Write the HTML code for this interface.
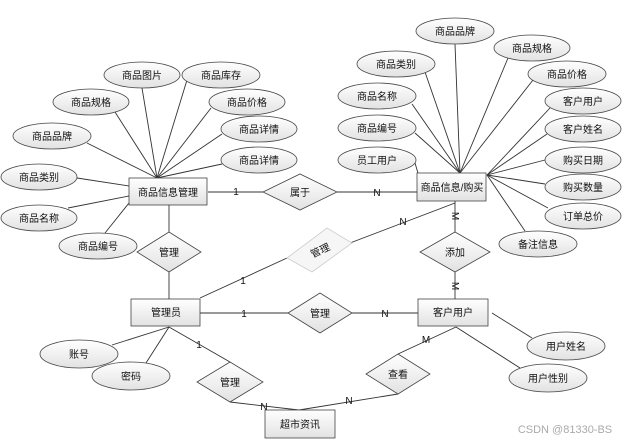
<!DOCTYPE html>
<html><head><meta charset="utf-8"><style>
html,body{margin:0;padding:0;background:#fff;width:624px;height:441px;overflow:hidden}
text{font-family:"Liberation Sans","Noto Sans CJK SC",sans-serif;font-size:10px;fill:#111}
</style></head><body>
<svg width="624" height="441" viewBox="0 0 624 441" xmlns="http://www.w3.org/2000/svg">
<defs>
<linearGradient id="g" x1="0" y1="0" x2="0" y2="1"><stop offset="0" stop-color="#fff"/><stop offset="1" stop-color="#e2e2e2"/></linearGradient>
</defs>
<g stroke="#333" stroke-width="0.9" fill="none">
<!-- left entity attrs -->
<line x1="157" y1="178" x2="142" y2="88"/>
<line x1="157" y1="178" x2="187" y2="80"/>
<line x1="157" y1="178" x2="115" y2="112"/>
<line x1="157" y1="178" x2="211" y2="108"/>
<line x1="157" y1="178" x2="87" y2="143"/>
<line x1="157" y1="178" x2="222" y2="134"/>
<line x1="157" y1="178" x2="222" y2="164"/>
<line x1="129" y1="186" x2="77" y2="178"/>
<line x1="129" y1="196" x2="68" y2="208"/>
<line x1="129" y1="203" x2="105" y2="233"/>
<line x1="208" y1="192" x2="263" y2="192"/>
<line x1="169" y1="205" x2="169" y2="232"/>
<line x1="169" y1="272" x2="169" y2="299"/>
<!-- right entity attrs -->
<line x1="460" y1="173" x2="455" y2="44"/>
<line x1="460" y1="173" x2="508" y2="58"/>
<line x1="460" y1="173" x2="425" y2="72"/>
<line x1="460" y1="173" x2="533" y2="80"/>
<line x1="460" y1="173" x2="412" y2="104"/>
<line x1="460" y1="173" x2="415" y2="133"/>
<line x1="420" y1="180" x2="415" y2="163"/>
<line x1="487" y1="175" x2="550" y2="108"/>
<line x1="487" y1="175" x2="547" y2="134"/>
<line x1="487" y1="175" x2="545" y2="160"/>
<line x1="487" y1="175" x2="545" y2="184"/>
<line x1="487" y1="175" x2="548" y2="208"/>
<line x1="487" y1="175" x2="525" y2="231"/>
<line x1="337" y1="192" x2="417" y2="192"/>
<line x1="455" y1="201" x2="455" y2="232"/>
<line x1="455" y1="272" x2="455" y2="299"/>
<line x1="350" y1="243" x2="455" y2="203"/>
<line x1="200" y1="298" x2="287" y2="258"/>
<!-- bottom -->
<line x1="200" y1="313" x2="288" y2="313"/>
<line x1="352" y1="313" x2="418" y2="313"/>
<line x1="169" y1="327" x2="112" y2="345"/>
<line x1="169" y1="327" x2="146" y2="363"/>
<line x1="169" y1="327" x2="230" y2="362"/>
<line x1="230" y1="402" x2="299" y2="410"/>
<line x1="398" y1="394" x2="299" y2="410"/>
<line x1="398" y1="354" x2="456" y2="327"/>
<line x1="456" y1="327" x2="520" y2="368"/>
<line x1="492" y1="313" x2="532" y2="338"/>
</g>
<g fill="url(#g)" stroke="#444" stroke-width="0.8">
<rect x="129" y="178" width="78" height="27"/>
<rect x="417" y="173" width="69" height="28"/>
<rect x="131" y="299" width="69" height="27"/>
<rect x="418" y="299" width="70" height="27"/>
<rect x="265" y="410" width="70" height="28"/>
<polygon points="263,192 300,174 337,192 300,210"/>
<polygon points="137,252 169,232 201,252 169,272"/>
<polygon points="420,252 455,232 490,252 455,272"/>
<polygon points="288,313 320,293 352,313 320,333"/>
<polygon points="197,382 230,362 263,382 230,402"/>
<polygon points="366,374 398,354 430,374 398,394"/>
</g>
<polygon points="287,258 327,228 352,243 312,272" fill="#f6f6f6" stroke="#ccc" stroke-width="0.8"/>
<g fill="url(#g)" stroke="#444" stroke-width="0.8">
<ellipse cx="142" cy="75" rx="38" ry="13"/>
<ellipse cx="221" cy="75" rx="39" ry="13"/>
<ellipse cx="91" cy="102" rx="38" ry="13"/>
<ellipse cx="247" cy="102" rx="38" ry="13"/>
<ellipse cx="52" cy="136" rx="39" ry="13"/>
<ellipse cx="259" cy="129" rx="38" ry="13"/>
<ellipse cx="259" cy="160" rx="38" ry="13"/>
<ellipse cx="39" cy="177" rx="38" ry="13"/>
<ellipse cx="39" cy="218" rx="38" ry="13"/>
<ellipse cx="98" cy="246" rx="39" ry="13"/>
<ellipse cx="455" cy="31" rx="39" ry="13"/>
<ellipse cx="532" cy="48" rx="38" ry="13"/>
<ellipse cx="396" cy="64" rx="39" ry="13"/>
<ellipse cx="567" cy="74" rx="39" ry="13"/>
<ellipse cx="377" cy="96" rx="39" ry="13"/>
<ellipse cx="583" cy="101" rx="38" ry="13"/>
<ellipse cx="377" cy="128" rx="39" ry="13"/>
<ellipse cx="583" cy="129" rx="38" ry="13"/>
<ellipse cx="377" cy="160" rx="39" ry="13"/>
<ellipse cx="583" cy="160" rx="38" ry="13"/>
<ellipse cx="583" cy="187" rx="38" ry="13"/>
<ellipse cx="583" cy="216" rx="38" ry="13"/>
<ellipse cx="538" cy="244" rx="39" ry="13"/>
<ellipse cx="79" cy="354" rx="39" ry="14"/>
<ellipse cx="131" cy="376" rx="39" ry="14"/>
<ellipse cx="566" cy="346" rx="39" ry="14"/>
<ellipse cx="548" cy="378" rx="39" ry="14"/>
</g>
<g text-anchor="middle">
<text x="142" y="79">商品图片</text><text x="221" y="79">商品库存</text>
<text x="91" y="106">商品规格</text><text x="247" y="106">商品价格</text>
<text x="52" y="140">商品品牌</text><text x="259" y="133">商品详情</text>
<text x="259" y="164">商品详情</text><text x="39" y="181">商品类别</text>
<text x="39" y="222">商品名称</text><text x="98" y="250">商品编号</text>
<text x="455" y="35">商品品牌</text><text x="532" y="52">商品规格</text>
<text x="396" y="68">商品类别</text><text x="567" y="78">商品价格</text>
<text x="377" y="100">商品名称</text><text x="583" y="105">客户用户</text>
<text x="377" y="132">商品编号</text><text x="583" y="133">客户姓名</text>
<text x="377" y="164">员工用户</text><text x="583" y="164">购买日期</text>
<text x="583" y="191">购买数量</text><text x="583" y="220">订单总价</text>
<text x="538" y="248">备注信息</text>
<text x="79" y="358">账号</text><text x="131" y="380">密码</text>
<text x="566" y="350">用户姓名</text><text x="548" y="382">用户性别</text>
<text x="168" y="196">商品信息管理</text>
<text x="452" y="191">商品信息/购买</text>
<text x="166" y="316">管理员</text>
<text x="453" y="316">客户用户</text>
<text x="300" y="428">超市资讯</text>
<text x="300" y="196">属于</text><text x="169" y="256">管理</text>
<text x="455" y="256">添加</text><text x="320" y="317">管理</text>
<text x="230" y="386">管理</text><text x="398" y="378">查看</text>
<text x="320" y="254" transform="rotate(-25 320 250)" fill="#444">管理</text>
<text x="236" y="195">1</text><text x="377" y="196">N</text>
<text x="403" y="225">N</text><text x="243" y="284">1</text>
<text x="244" y="317">1</text><text x="385" y="317">N</text>
<text x="455" y="219" transform="rotate(90 455 216)">M</text>
<text x="455" y="289" transform="rotate(90 455 286)">M</text>
<text x="199" y="348">1</text><text x="264" y="410">N</text>
<text x="349" y="404">N</text><text x="426" y="343">M</text>
<text x="565" y="433" style="font-size:11px;fill:#aaa">CSDN @81330-BS</text>
</g>
</svg>
</body></html>
